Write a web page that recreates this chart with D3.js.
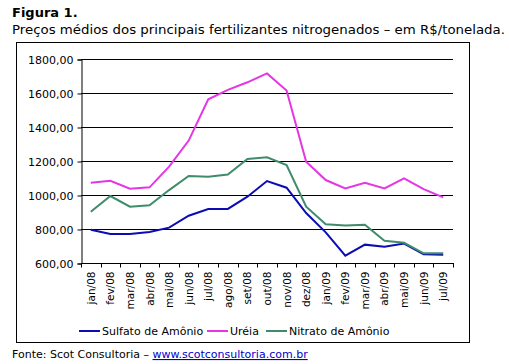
<html>
<head>
<meta charset="UTF-8">
<script src="https://d3js.org/d3.v7.min.js"></script>
<style>
  body { margin: 0; background: #fff; }
  svg text { font-family: "DejaVu Sans", Verdana, sans-serif; }
</style>
</head>
<body>
<svg id="chart" width="509" height="364"></svg>
<script>
// categories and values
var months = ["jan/08","fev/08","mar/08","abr/08","mai/08","jun/08","jul/08","ago/08","set/08","out/08","nov/08","dez/08","jan/09","fev/09","mar/09","abr/09","mai/09","jun/09","jul/09"];
var sulfato = [795, 770, 770, 782, 808, 878, 918, 918, 990, 1082, 1043, 894, 780, 643, 708, 696, 714, 651, 649];
var ureia   = [1072, 1084, 1037, 1045, 1167, 1320, 1563, 1618, 1663, 1715, 1615, 1196, 1088, 1039, 1072, 1039, 1098, 1035, 986];
var nitrato = [902, 994, 931, 939, 1029, 1112, 1108, 1120, 1212, 1222, 1176, 931, 828, 820, 825, 731, 719, 657, 657];
var yTicks = [600, 800, 1000, 1200, 1400, 1600, 1800];

var series = [
  {name: "Sulfato de Amônio", values: sulfato, color: "#0c0cb4"},
  {name: "Uréia", values: ureia, color: "#e535e5"},
  {name: "Nitrato de Amônio", values: nitrato, color: "#3f8c6c"}
];

var svg = d3.select("#chart");

svg.append("text").attr("x", 12).attr("y", 17)
  .style("font-size", "13px").style("font-weight", "bold").text("Figura 1.");
svg.append("text").attr("x", 12).attr("y", 34)
  .style("font-size", "13px").attr("textLength", 493).attr("lengthAdjust", "spacingAndGlyphs")
  .text("Preços médios dos principais fertilizantes nitrogenados – em R$/tonelada.");

// outer frame
svg.append("rect").attr("x", 16.5).attr("y", 42.5).attr("width", 453).attr("height", 300)
  .attr("fill", "none").attr("stroke", "#000");

var pLeft = 81, pRight = 453, pTop = 59, pBottom = 263;

var x = d3.scaleBand().domain(months).range([pLeft, pRight]);
var y = d3.scaleLinear().domain([600, 1800]).range([pBottom, pTop]);

// gridlines
svg.append("g").selectAll("line").data(yTicks.slice(1)).join("line")
  .attr("x1", pLeft).attr("x2", pRight)
  .attr("y1", d => Math.round(y(d)) + 0.5).attr("y2", d => Math.round(y(d)) + 0.5)
  .attr("stroke", "#000");

// y axis
var yAxis = svg.append("g").attr("transform", "translate(" + (pLeft + 0.5) + ",0.5)")
  .call(d3.axisLeft(y).tickValues(yTicks).tickSize(4).tickPadding(4)
    .tickFormat(d => d3.format(".2f")(d).replace(".", ",")));
yAxis.select(".domain").attr("stroke", "#000");
yAxis.selectAll("text").style("font-size", "11px").attr("fill", "#000");

// x axis, ticks on band edges
var xAxis = svg.append("g").attr("transform", "translate(0," + (pBottom + 0.5) + ")");
xAxis.append("line").attr("x1", pLeft).attr("x2", pRight + 1).attr("stroke", "#000");
xAxis.selectAll("line.tk").data(d3.range(months.length + 1)).join("line")
  .attr("class", "tk")
  .attr("x1", i => Math.round(pLeft + i * x.step()) + 0.5)
  .attr("x2", i => Math.round(pLeft + i * x.step()) + 0.5)
  .attr("y1", 0).attr("y2", 4).attr("stroke", "#000");
xAxis.selectAll("text").data(months).join("text")
  .attr("transform", d => "translate(" + (x(d) + x.bandwidth() / 2 + 4) + ",8) rotate(-90)")
  .attr("text-anchor", "end")
  .style("font-size", "10.5px").text(d => d);

// lines
var line = d3.line()
  .x((d, i) => x(months[i]) + x.bandwidth() / 2)
  .y(d => y(d));

svg.append("g").selectAll("path").data(series).join("path")
  .attr("d", s => line(s.values))
  .attr("fill", "none").attr("stroke", s => s.color).attr("stroke-width", 2);

// legend
var legendX = [79, 207, 266];
var lg = svg.append("g").selectAll("g").data(series).join("g")
  .attr("transform", (s, i) => "translate(" + legendX[i] + ",331)");
lg.append("line").attr("x1", 0).attr("x2", 21).attr("y1", 0).attr("y2", 0)
  .attr("stroke", s => s.color).attr("stroke-width", 2);
lg.append("text").attr("x", 23).attr("y", 4).style("font-size", "11px").text(s => s.name);

// source
var src = svg.append("text").attr("x", 12).attr("y", 358).style("font-size", "11px");
src.append("tspan").text("Fonte: Scot Consultoria – ");
src.append("tspan").attr("fill", "#0000cc").style("text-decoration", "underline").text("www.scotconsultoria.com.br");
</script>
</body>
</html>
